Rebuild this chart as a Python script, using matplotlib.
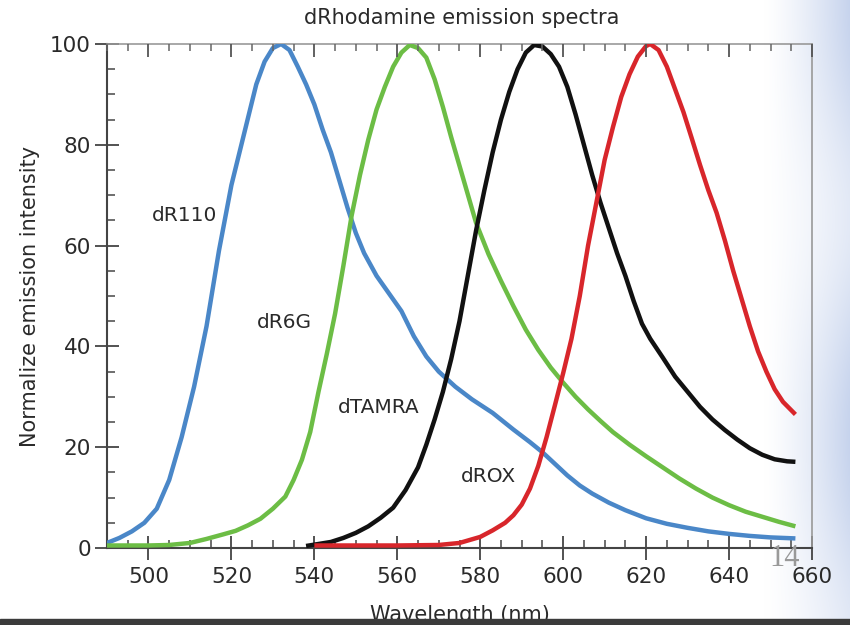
import matplotlib
matplotlib.use("Agg")
import matplotlib.pyplot as plt
import numpy as np
from matplotlib.ticker import MultipleLocator
from matplotlib.patches import Rectangle

plt.rcParams["font.family"] = ["DejaVu Sans"]

# --- data (wavelength nm, normalized intensity) ---
r110_nm = [490, 493, 496, 499, 502, 505, 508, 511, 514, 517, 520, 523, 526, 528, 530,
           532, 534, 536, 538, 540, 542, 544, 546, 548, 550, 552, 555, 558, 561, 564,
           567, 570, 574, 578, 583, 588, 592, 595, 598, 601, 604, 607, 611, 615, 620,
           625, 630, 635, 640, 645, 650, 656]
r110_int = [1.0, 2.0, 3.3, 5.0, 7.8, 13.5, 22, 32, 44, 59, 72, 82, 92, 96.5, 99.2,
            100, 98.8, 95.5, 92, 88, 83, 78.5, 73, 67.5, 62.5, 58.5, 54, 50.5, 47, 42,
            38, 35, 32, 29.5, 26.8, 23.5, 21, 19, 16.7, 14.4, 12.4, 10.8, 9.0, 7.5, 5.9,
            4.8, 4.0, 3.3, 2.8, 2.4, 2.1, 1.9]

r6g_nm = [490, 495, 500, 505, 510, 514, 518, 521, 524, 527, 530, 533, 535, 537, 539,
          541, 543, 545, 547, 549, 551, 553, 555, 557, 559, 561, 563, 565, 567, 569,
          571, 573, 576, 579, 582, 585, 588, 591, 594, 597, 600, 603, 606, 609, 612,
          616, 620, 624, 628, 632, 636, 640, 644, 648, 652, 656]
r6g_int = [0.5, 0.5, 0.5, 0.6, 1.0, 1.8, 2.7, 3.4, 4.5, 5.8, 7.8, 10.2, 13.5, 17.5, 23,
           31, 38.5, 46.5, 56, 66, 74, 81, 87, 91.5, 95.5, 98.3, 99.8, 99.2, 97.3, 93,
           87.5, 81.5, 73, 64.5, 58.3, 53, 48, 43.3, 39.3, 35.8, 32.8, 30, 27.5, 25.2, 23,
           20.5, 18.2, 16, 13.8, 11.8, 10.0, 8.5, 7.2, 6.2, 5.2, 4.3]

tamra_nm = [538, 541, 544, 547, 550, 553, 556, 559, 562, 565, 567, 569, 571, 573, 575,
            577, 579, 581, 583, 585, 587, 589, 591, 593, 595, 597, 599, 601, 603, 605,
            607, 609, 611, 613, 615, 617, 619, 621, 624, 627, 630, 633, 636, 639, 642,
            645, 648, 651, 654, 656]
tamra_int = [0.4, 0.8, 1.2, 2.0, 3.0, 4.3, 6.0, 8.0, 11.5, 16, 20.5, 25.5, 31, 37.5, 45,
             54, 63, 71, 78.5, 85, 90.5, 95, 98.3, 99.8, 99.5, 98, 95.5, 91.5, 86, 80,
             74, 68.5, 63.5, 58.5, 54, 49, 44.5, 41.5, 37.8, 34, 31, 28, 25.5, 23.4, 21.5,
             19.8, 18.5, 17.6, 17.2, 17.1]

rox_nm = [540, 550, 560, 570, 575, 580, 583, 586, 588, 590, 592, 594, 596, 598, 600,
          602, 604, 606, 608, 610, 612, 614, 616, 618, 620, 621, 623, 625, 627, 629,
          631, 633, 635, 637, 639, 641, 643, 645, 647, 649, 651, 653, 656]
rox_int = [0.5, 0.5, 0.5, 0.6, 1.0, 2.2, 3.5, 5.0, 6.5, 8.6, 11.8, 16.3, 22, 28.3, 34.7,
           41.5, 50, 60, 68.5, 77, 83.5, 89.5, 94, 97.5, 99.6, 100, 98.8, 95.5, 91,
           86.5, 81.3, 76, 71, 66.5, 61, 55, 49.5, 44, 39, 35, 31.5, 29, 26.5]

dye_names = ["dR110", "dR6G", "dTAMRA", "dROX"]
label_pos = [(508.7, 66), (532.7, 44.8), (555.5, 27.8), (582, 14.1)]
colors = ["#4a87c8", "#6cbd45", "#111111", "#d8262b"]

fig = plt.figure(figsize=(8.5, 6.25), dpi=100)

# slide background: soft bluish decoration on the right, dark strip at the bottom
bg = fig.add_axes([0, 0, 1, 1], zorder=-10)
bg.set_axis_off()
xx = np.linspace(0, 1, 850)
yy = np.linspace(0, 1, 625)
X, Y = np.meshgrid(xx, yy)
w = np.clip((X - 0.90) / 0.10, 0, 1) ** 1.3
w = w * (0.75 + 0.25 * np.cos(Y * 9.0))
base = np.array([1.0, 1.0, 1.0])
tint = np.array([0.78, 0.83, 0.93])
img = base[None, None, :] * (1 - w[..., None]) + tint[None, None, :] * w[..., None]
bg.imshow(img, extent=[0, 1, 0, 1], aspect="auto", origin="upper")
bg.set_xlim(0, 1)
bg.set_ylim(0, 1)
fig.patches.append(Rectangle((0, 0), 1, 6 / 625, transform=fig.transFigure,
                             color="#3b3b3b", zorder=5))

ax = fig.add_axes([107 / 850, 1 - 548 / 625, 705 / 850, 504 / 625])
ax.patch.set_alpha(0)

series = [(r110_nm, r110_int), (r6g_nm, r6g_int), (tamra_nm, tamra_int), (rox_nm, rox_int)]
for (wl, inten), c in zip(series, colors):
    ax.plot(wl, inten, color=c, lw=3.2, solid_capstyle="butt", zorder=3)

for name, (lx, ly) in zip(dye_names, label_pos):
    ax.text(lx, ly, name, fontsize=14.5, color="#2a2a2a", ha="center", va="center")

ax.set_xlim(490, 660)
ax.set_ylim(0, 100)
ax.set_xticks(range(500, 661, 20))
ax.xaxis.set_minor_locator(MultipleLocator(5))
ax.yaxis.set_major_locator(MultipleLocator(20))
ax.yaxis.set_minor_locator(MultipleLocator(5))

ax.tick_params(axis="both", which="major", direction="inout", length=17, width=1.3,
               color="#444444", labelsize=15.5, labelcolor="#2a2a2a")
ax.tick_params(axis="x", which="major", pad=5)
ax.tick_params(axis="y", which="major", pad=3)
ax.tick_params(axis="both", which="minor", direction="in", length=6, width=1.2,
               color="#555555")
ax.tick_params(axis="y", which="both", right=False)

for side in ["left", "bottom"]:
    ax.spines[side].set_color("#444444")
    ax.spines[side].set_linewidth(1.5)
for side in ["top", "right"]:
    ax.spines[side].set_color("#999999")
    ax.spines[side].set_linewidth(1.2)

# inward ticks along the top frame
top = ax.twiny()
top.set_xlim(ax.get_xlim())
top.set_xticks(range(500, 661, 20))
top.xaxis.set_minor_locator(MultipleLocator(5))
top.tick_params(axis="x", which="major", direction="in", length=9, width=1.3,
                color="#555555", labeltop=False)
top.tick_params(axis="x", which="minor", direction="in", length=5, width=1.1,
                color="#666666")
for side in top.spines.values():
    side.set_visible(False)

ax.set_xlabel("Wavelength (nm)", fontsize=15, color="#2a2a2a", labelpad=13)
ax.set_ylabel("Normalize emission intensity", fontsize=15, color="#2a2a2a", labelpad=7)
fig.text(462 / 850, 1 - 18 / 625, "dRhodamine emission spectra", fontsize=15,
         color="#2a2a2a", ha="center", va="center")

fig.text(785 / 850, 1 - 558 / 625, "14", family=["Liberation Serif", "DejaVu Serif"],
         fontsize=22, color="#999999", ha="center", va="center", zorder=6)

fig.savefig("out.png", dpi=100)
